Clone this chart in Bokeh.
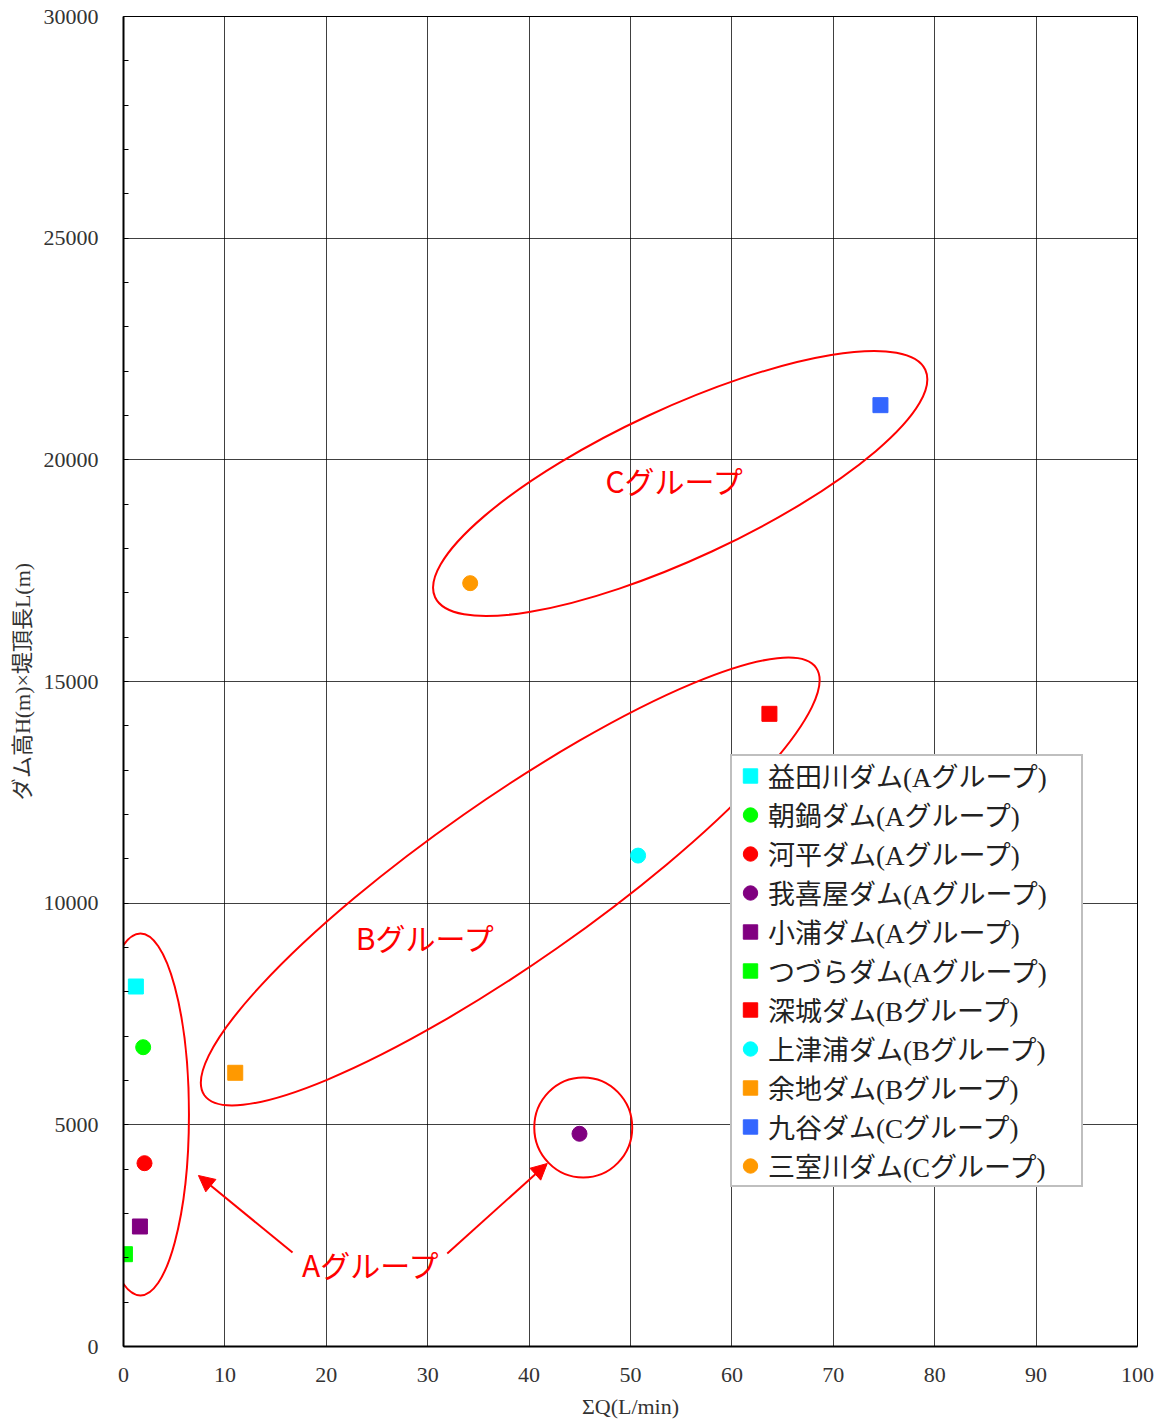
import math

from bokeh.plotting import figure
from bokeh.models import (Range1d, Legend, LegendItem, Arrow, NormalHead, Label,
                          SingleIntervalTicker)
from bokeh.embed import file_html
from bokeh.resources import INLINE

# --- dam data: total seepage ΣQ (L/min) vs dam height × crest length ---
dam_names = [
    "益田川ダム(Aグループ)", "朝鍋ダム(Aグループ)", "河平ダム(Aグループ)",
    "我喜屋ダム(Aグループ)", "小浦ダム(Aグループ)", "つづらダム(Aグループ)",
    "深城ダム(Bグループ)", "上津浦ダム(Bグループ)", "余地ダム(Bグループ)",
    "九谷ダム(Cグループ)", "三室川ダム(Cグループ)",
]
sum_q = [1.22, 1.94, 2.07, 44.97, 1.62, 0.14, 63.7, 50.75, 11.02, 74.65, 34.19]
h_times_l = [8120, 6751, 4135, 4798, 2707, 2082, 14271, 11073, 6174, 21233, 17218]
dam_markers = ["square", "circle", "circle", "circle", "square", "square",
               "square", "circle", "square", "square", "circle"]
dam_colors = ["#00FFFF", "#00FF00", "#FF0000", "#800080", "#800080", "#00FF00",
              "#FF0000", "#00FFFF", "#FF9900", "#3366FF", "#FF9900"]

# group outlines (centre x, centre y, width, height in data units, tilt in degrees)
ring_x = [1.67, 45.34, 38.14, 54.9]
ring_y = [5233, 4940, 10489, 19466]
ring_w = [9.57, 9.66, 73.6, 53.3]
ring_h = [8165, 2256, 3677, 3383]
ring_deg = [0, 0, 34.95, 24.9]

# group captions
group_text = ["Aグループ", "Bグループ", "Cグループ"]
group_x = [24.43, 29.8, 54.39]
group_y = [1872, 9226, 19534]

# arrows from the A caption to its two outlines
arrow_x0 = [16.67, 31.93]
arrow_y0 = [2120, 2098]
arrow_x1 = [7.39, 41.79]
arrow_y1 = [3857, 4128]

SERIF_JP = "Liberation Serif, Noto Sans CJK JP"

p = figure(width=1163, height=1423,
           x_range=Range1d(0, 100), y_range=Range1d(0, 30000),
           output_backend="svg", toolbar_location=None,
           min_border_left=123, min_border_right=26,
           min_border_top=16, min_border_bottom=77,
           background_fill_color="white", border_fill_color="white")

p.outline_line_color = "black"
p.outline_line_width = 1

# grid
for g in (p.xgrid, p.ygrid):
    g.grid_line_color = "black"
    g.grid_line_alpha = 0.75
    g.grid_line_width = 1

# axes
p.xaxis.ticker = SingleIntervalTicker(interval=10, num_minor_ticks=0)
p.yaxis.ticker = SingleIntervalTicker(interval=5000, num_minor_ticks=5)
for ax in (p.xaxis, p.yaxis):
    ax.axis_line_color = "black"
    ax.axis_line_width = 2
    ax.major_tick_in = 0
    ax.major_tick_out = 0
    ax.major_label_text_font = "Liberation Serif"
    ax.major_label_text_font_size = "22px"
    ax.major_label_text_color = "#333333"
    ax.axis_label_text_font = SERIF_JP
    ax.axis_label_text_font_size = "22px"
    ax.axis_label_text_font_style = "normal"
    ax.axis_label_text_color = "#333333"
p.xaxis.minor_tick_line_color = None
p.yaxis.minor_tick_in = 5
p.yaxis.minor_tick_out = 0
p.yaxis.minor_tick_line_color = "black"
p.xaxis.major_label_standoff = 21
p.yaxis.major_label_standoff = 25
p.xaxis.axis_label = "ΣQ(L/min)"
p.yaxis.axis_label = "ダム高H(m)×堤頂長L(m)"
p.xaxis.axis_label_standoff = 9
p.yaxis.axis_label_standoff = 6

# group outlines
p.ellipse(x=ring_x, y=ring_y, width=ring_w, height=ring_h,
          angle=[math.radians(a) for a in ring_deg],
          fill_alpha=0, line_color="red", line_width=2)

for x0, y0, x1, y1 in zip(arrow_x0, arrow_y0, arrow_x1, arrow_y1):
    p.add_layout(Arrow(end=NormalHead(size=16, fill_color="red", line_color="red"),
                       x_start=x0, y_start=y0, x_end=x1, y_end=y1,
                       line_color="red", line_width=2))

for t, gx, gy in zip(group_text, group_x, group_y):
    p.add_layout(Label(x=gx, y=gy, text=t, text_font="Noto Sans CJK JP",
                       text_font_size="30px", text_color="red",
                       text_align="center", text_baseline="middle"))

# dam points
items = []
for name, qx, hy, mk, col in zip(dam_names, sum_q, h_times_l, dam_markers, dam_colors):
    r = p.scatter(x=[qx], y=[hy], marker=mk, size=15,
                  fill_color=col, line_color=col)
    items.append(LegendItem(label=name, renderers=[r]))

legend = Legend(items=items, location=(607, 159),
                glyph_width=36, glyph_height=37, padding=0, spacing=0,
                label_standoff=0, label_width=313, margin=0,
                label_text_font=SERIF_JP, label_text_font_size="27px",
                label_text_color="#222222", label_text_baseline="middle",
                border_line_color="#7f7f7f", border_line_width=2,
                background_fill_color="white", background_fill_alpha=1)
p.add_layout(legend)

open("out.html", "w").write(file_html(p, INLINE))
